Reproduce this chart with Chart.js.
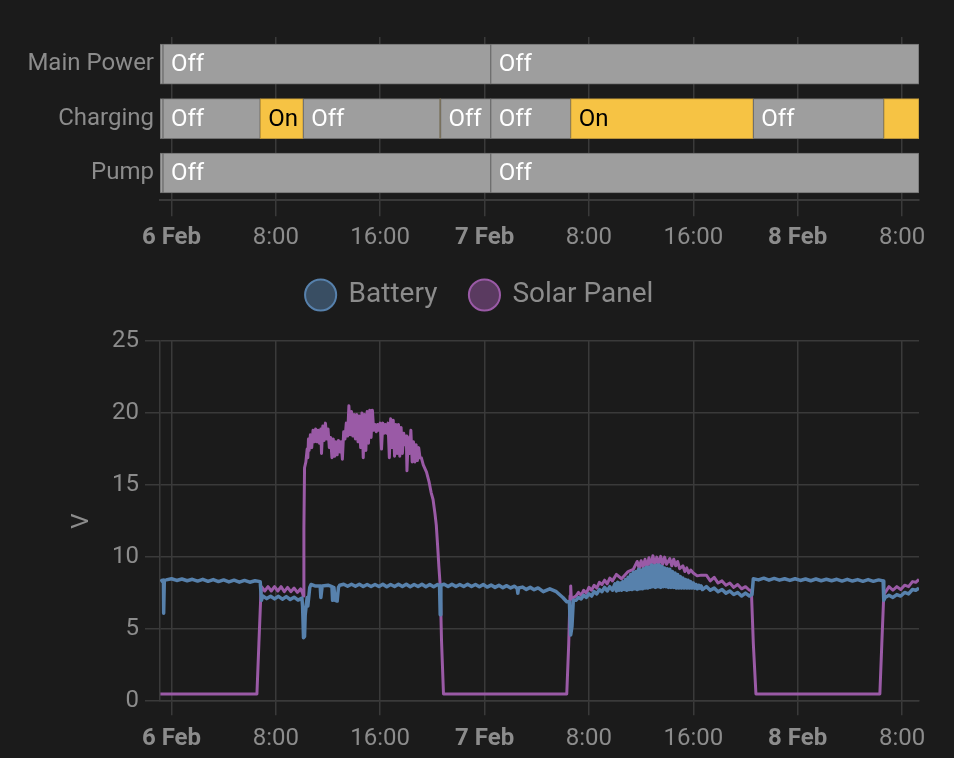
<!DOCTYPE html>
<html>
<head>
<meta charset="utf-8">
<style>
html,body{margin:0;padding:0;background:#1b1b1b;width:954px;height:758px;overflow:hidden}
canvas{position:absolute;left:0}
#tl{top:0}
#ln{top:248px}
</style>
<script src="https://cdn.jsdelivr.net/npm/chart.js@4"></script>
</head>
<body>
<canvas id="tl" width="954" height="259"></canvas>
<canvas id="ln" width="954" height="514"></canvas>
<script>
// Axis
const tickHours = [0, 8, 16, 24, 32, 40, 48, 56];
const tickLabels = ['6 Feb', '8:00', '16:00', '7 Feb', '8:00', '16:00', '8 Feb', '8:00'];
const yTicks = [0, 5, 10, 15, 20, 25];
const hourMin = -0.88, hourMax = 57.3;

// Timeline
const rows = ['Main Power', 'Charging', 'Pump'];
const mainStarts = [-0.88, -0.65, 24.47];
const mainEnds = [-0.65, 24.47, 57.3];
const mainStates = ['', 'Off', 'Off'];
const chargeStarts = [-0.88, -0.65, 6.8, 10.1, 20.58, 20.62, 24.47, 30.6, 44.6, 54.6];
const chargeEnds = [-0.65, 6.8, 10.1, 20.58, 20.62, 24.47, 30.6, 44.6, 54.6, 57.3];
const chargeStates = ['', 'Off', 'On', 'Off', '', 'Off', 'Off', 'On', 'Off', ''];
const chargeKinds = ['Off', 'Off', 'On', 'Off', 'On', 'Off', 'Off', 'On', 'Off', 'On'];
const pumpStarts = [-0.88, -0.65, 24.47];
const pumpEnds = [-0.65, 24.47, 57.3];
const pumpStates = ['', 'Off', 'Off'];

// Voltage series: Battery
const batteryHours = [-0.85,-0.7,-0.62,-0.6,-0.55,
-0.4,0,0.4,0.8,1.2,1.6,2,2.4,2.8,3.2,3.6,4,4.4,4.8,5.2,5.6,6,6.4,6.8,
6.85,6.9,
7,7.3,7.6,7.9,8.2,8.5,8.8,9.1,9.4,9.7,10,
10.05,10.12,10.2,10.25,10.4,10.45,10.6,10.7,11,11.4,11.45,11.55,12,12.3,12.35,12.45,12.55,12.7,12.8,12.9,
13.2,13.5,13.8,14.1,14.4,14.7,15,15.3,15.6,15.9,16.2,16.5,16.8,17.1,17.4,17.7,18,18.3,18.6,18.9,19.2,19.5,19.8,20.1,20.4,20.55,20.6,20.65,
20.9,21.2,21.5,21.8,22.1,22.4,22.7,23,23.3,23.6,23.9,24.2,24.5,24.8,25.1,25.4,25.7,26,26.3,26.5,26.55,26.6,26.9,27.2,27.5,27.8,28.1,
28.5,29,29.5,30,30.3,30.5,30.6,30.7,30.8,
31,31.2,31.4,31.6,31.8,32,32.2,32.4,32.6,32.8,33,33.2,33.4,33.6,33.8,
34,34.1,34.2,34.3,34.4,34.5,34.6,34.7,34.8,34.9,35,35.1,35.2,35.3,35.4,35.5,35.6,35.7,35.8,35.9,36,36.1,36.2,36.3,36.4,36.5,36.6,36.7,36.8,36.9,37,37.1,37.2,37.3,37.4,37.5,37.6,37.7,37.8,37.9,38,38.1,38.2,38.3,38.4,38.5,38.6,38.7,38.8,38.9,39,39.1,39.2,39.3,39.4,39.5,39.6,39.7,39.8,39.9,40,40.1,40.2,40.3,40.4,40.5,40.6,40.7,
41,41.3,41.6,41.9,42.2,42.5,42.8,43.1,43.4,43.7,44,44.3,44.45,44.5,
44.6,45,45.4,45.8,46.2,46.6,47,47.4,47.8,48.2,48.6,49,49.4,49.8,50.2,50.6,51,51.4,51.8,52.2,52.6,53,53.4,53.8,54.2,54.55,
54.6,54.7,55,55.3,55.6,55.9,56.2,56.5,56.8,57.05,57.3];
const batteryVolts = [8.3,8.4,8.4,6.1,8.4,
8.42,8.5,8.38,8.48,8.36,8.46,8.34,8.46,8.32,8.44,8.3,8.42,8.28,8.4,8.26,8.38,8.26,8.36,8.3,
8.3,7,
7.3,7.12,7.28,7.1,7.28,7.08,7.26,7.06,7.22,7.02,7.15,
6.6,4.4,4.5,6,7.2,6.6,7.9,8.1,8,8,7.2,8,8.05,7.95,7,7.9,7,6.95,7.9,8.05,
8.12,7.98,8.12,7.98,8.12,7.96,8.1,7.96,8.1,7.96,8.12,7.94,8.1,7.96,8.12,7.96,8.12,7.94,8.1,7.96,8.12,7.94,8.1,7.94,8.1,8,6,8.05,
8.12,7.96,8.12,7.96,8.1,7.96,8.12,7.96,8.1,7.94,8.1,7.92,8.06,7.9,8.04,7.88,8.02,7.86,7.98,7.82,7.5,7.86,7.92,7.76,7.9,7.74,7.86,
7.6,7.8,7.6,7.2,6.9,6.9,4.6,5.2,7,
7,7.2,7.1,7.35,7.2,7.45,7.3,7.6,7.45,7.75,7.6,7.9,7.65,7.95,7.7,
8.15,7.65,8.25,7.7,8.2,7.7,8.3,7.75,8.45,7.7,8.6,7.75,8.8,7.75,8.95,7.8,9,7.75,9.15,7.8,9.1,7.8,9.2,7.85,9.3,7.85,9.3,7.9,9.45,7.95,9.4,7.9,9.45,7.95,9.45,7.9,9.35,7.95,9.25,7.95,9.2,7.9,9.15,7.9,9,7.9,8.9,7.85,8.8,7.85,8.65,7.85,8.55,7.85,8.45,7.85,8.4,7.85,8.3,7.85,8.2,7.85,8.1,7.8,8.05,7.85,8,7.75,
7.95,7.7,7.85,7.6,7.75,7.5,7.65,7.4,7.55,7.3,7.5,7.3,7.4,7.4,
8.5,8.42,8.54,8.4,8.52,8.4,8.5,8.38,8.5,8.38,8.48,8.36,8.48,8.36,8.46,8.36,8.46,8.34,8.46,8.34,8.44,8.32,8.44,8.32,8.42,8.35,
7,7.2,7.35,7.2,7.4,7.3,7.55,7.45,7.75,7.7,7.85];

// Voltage series: Solar Panel
const solarHours = [-0.85,6.55,6.7,6.85,
6.9,7.15,7.4,7.65,7.9,8.15,8.4,8.65,8.9,9.15,9.4,9.65,9.9,10.05,
10.1,10.15,10.2,10.3,10.4,10.45,10.5,10.55,10.65,10.75,10.85,10.95,11.05,11.15,11.25,11.35,11.45,11.5,11.6,11.7,11.8,11.9,12,12.1,12.2,12.3,12.4,12.5,12.6,12.7,12.8,12.9,13,13.1,13.2,13.3,13.4,13.5,13.6,13.7,13.8,13.9,14,14.1,14.2,14.3,14.4,14.5,14.6,14.7,14.8,14.9,15,15.1,15.2,15.3,15.4,15.5,15.6,15.7,15.8,15.9,16,16.1,16.2,16.3,16.4,16.5,16.6,16.7,16.8,16.9,17,17.1,17.2,17.3,17.4,17.5,17.6,17.7,17.8,17.9,18,18.05,18.15,18.25,18.35,18.45,18.55,18.65,18.75,18.85,18.95,19.05,19.15,19.3,19.55,19.75,19.9,20.05,20.2,20.3,20.4,20.5,20.6,20.7,20.85,
30.3,30.45,30.55,30.6,30.65,
31,31.2,31.4,31.6,31.8,32,32.2,32.4,32.6,32.8,33,33.2,33.4,33.6,33.8,34.1,34.5,35,35.4,
35.7,35.85,36,36.15,36.3,36.45,36.6,36.75,36.9,37.05,37.2,37.35,37.5,37.65,37.8,37.95,38.2,38.35,38.5,38.65,38.8,38.95,39.2,39.35,39.5,39.65,39.8,40,40.3,40.6,
41,41.3,41.6,41.9,42.2,42.5,42.8,43.1,43.4,43.7,44,44.3,44.45,44.6,44.8,54.3,54.45,54.6,
55,55.3,55.6,55.9,56.2,56.5,56.8,57.05,57.3];
const solarVolts = [0.5,0.5,4,7.4,
7.95,7.65,7.95,7.65,7.95,7.65,7.95,7.6,7.9,7.6,7.85,7.55,7.8,7.5,
7.3,12,16.2,16.6,17.5,16.9,18.2,17.4,18.5,17.6,18.8,18,18.9,18,18.8,17.9,18.9,17.2,19.1,18.1,19.3,18.2,18.9,17.6,18.3,16.9,18.2,17,18,17.1,18.1,17.3,18,16.8,18.7,18.2,19.3,18.4,20.5,18.5,20.1,18.4,19.9,18.2,19.9,18,19.8,17.6,20,16.9,19.9,17.4,20.1,17.9,20.2,18.3,20.2,18.8,19.2,18.7,19.2,18.8,19.3,17.5,19.3,18.6,19.2,18.6,19.3,16.9,19.6,17.6,19.5,17,19.2,17.2,19.2,17,19,17.2,18.6,17.8,18.4,16,18.3,17.2,18.8,16.6,18,16.6,17.8,16.7,17.6,16.9,16.9,16.4,15.9,15.2,14.5,14,13,12.2,10.8,9.3,8,4.2,0.5,
0.5,4,7.3,8,7.1,
7.3,7.55,7.35,7.7,7.5,7.9,7.7,8.05,7.85,8.25,8.1,8.4,8.15,8.55,8.35,8.8,8.5,9,9.15,
9.7,9.2,9.75,9.3,9.85,9.3,9.95,9.4,10.1,9.5,10,9.5,10.05,9.5,10,9.5,9.9,9.4,9.85,9.4,9.7,9.2,9.4,9,9.25,8.9,9.1,8.9,8.7,8.75,
8.75,8.35,8.6,8.2,8.35,8.05,8.2,7.9,8.1,7.8,7.95,7.7,7.7,4,0.5,0.5,4,7.4,
7.95,7.7,7.95,7.75,8.05,7.95,8.3,8.25,8.45];

function pts(xs, ys) { return xs.map((x, i) => ({ x, y: ys[i] })); }
function segs(row, s, e) { return s.map((a, i) => ({ x: [a, e[i]], y: row })); }
const GRID = '#3a3a3a', TEXT = '#8c8c8c';
const FF = 'Roboto';
const stateFill = { Off: '#9e9e9e', On: '#f6c344' };
const stateEdge = { Off: '#6f6f6f', On: '#b8923a' };

const timelineData = [
  ...segs(rows[0], mainStarts, mainEnds),
  ...segs(rows[1], chargeStarts, chargeEnds),
  ...segs(rows[2], pumpStarts, pumpEnds)
];
const timelineKinds = [...mainStates.map(() => 'Off'), ...chargeKinds, ...pumpStates.map(() => 'Off')];
const timelineTexts = [...mainStates, ...chargeStates, ...pumpStates];

function xTicksOpts(pad) {
  return {
    autoSkip: false, maxRotation: 0, color: TEXT, padding: pad,
    font: c => ({ family: FF, size: 24, weight: (c.tick && c.tick.value % 24 === 0) ? '700' : '400' }),
    callback: v => { const i = tickHours.indexOf(v); return i < 0 ? '' : tickLabels[i]; }
  };
}
function setXTicks(axis) { axis.ticks = tickHours.map(value => ({ value })); }

const stateText = {
  id: 'stateText',
  afterDatasetsDraw(chart) {
    const { ctx, scales } = chart;
    ctx.save();
    ctx.font = '24px ' + FF;
    ctx.textBaseline = 'middle';
    timelineData.forEach((d, i) => {
      if (!timelineTexts[i]) return;
      ctx.fillStyle = timelineTexts[i] === 'On' ? '#000' : '#fff';
      ctx.fillText(timelineTexts[i], scales.x.getPixelForValue(d.x[0]) + 8, scales.y.getPixelForValue(d.y) + 1);
    });
    ctx.restore();
  }
};

const legendRoom = {
  id: 'legendRoom',
  beforeInit(chart) {
    const fit = chart.legend.fit;
    chart.legend.fit = function () { fit.call(this); this.height += 22; };
  }
};

new Chart(document.getElementById('tl'), {
  type: 'bar',
  plugins: [stateText],
  data: {
    labels: rows,
    datasets: [{
      data: timelineData,
      barThickness: 40,
      grouped: false,
      borderSkipped: false,
      borderWidth: 1,
      backgroundColor: timelineKinds.map(k => stateFill[k]),
      borderColor: timelineKinds.map(k => stateEdge[k])
    }]
  },
  options: {
    indexAxis: 'y', responsive: false, animation: false, devicePixelRatio: 1,
    layout: { padding: { top: 37, right: 35, left: 0, bottom: 0 } },
    plugins: { legend: { display: false }, tooltip: { enabled: false } },
    scales: {
      x: {
        type: 'linear', min: hourMin, max: hourMax, afterBuildTicks: setXTicks,
        grid: { color: GRID, lineWidth: 1.5, tickLength: 16 }, border: { color: GRID, width: 2 },
        ticks: xTicksOpts(7)
      },
      y: {
        type: 'category', labels: rows,
        afterFit(s) { s.width = 160; },
        grid: { display: false, drawTicks: false }, border: { display: false },
        ticks: { color: TEXT, padding: 6, font: { family: FF, size: 24 } }
      }
    }
  }
});

new Chart(document.getElementById('ln'), {
  type: 'line',
  plugins: [legendRoom],
  data: {
    datasets: [
      { label: 'Battery', data: pts(batteryHours, batteryVolts), borderColor: '#5781ac', backgroundColor: 'rgba(87,129,172,0.5)', borderWidth: 3.5, borderJoinStyle: 'round', pointRadius: 0, tension: 0, fill: false },
      { label: 'Solar Panel', data: pts(solarHours, solarVolts), borderColor: '#9a5aa6', backgroundColor: 'rgba(154,90,166,0.5)', borderWidth: 3, borderJoinStyle: 'round', pointRadius: 0, tension: 0, fill: false }
    ]
  },
  options: {
    responsive: false, animation: false, devicePixelRatio: 1,
    layout: { padding: { top: 0, right: 35, left: 41, bottom: 0 } },
    plugins: {
      tooltip: { enabled: false },
      legend: {
        position: 'top', align: 'center',
        labels: {
          color: TEXT, usePointStyle: true, boxHeight: 22, boxWidth: 28, padding: 33, font: { family: FF, size: 28 },
          generateLabels: c => Chart.defaults.plugins.legend.labels.generateLabels(c).map(l => ({ ...l, lineWidth: 2 }))
        }
      }
    },
    scales: {
      x: {
        type: 'linear', min: hourMin, max: hourMax, afterBuildTicks: setXTicks,
        grid: { color: GRID, lineWidth: 1.5, tickLength: 14 }, border: { color: GRID, width: 1.5 },
        ticks: xTicksOpts(9)
      },
      y: {
        type: 'linear', min: 0, max: 25,
        afterBuildTicks(a) { a.ticks = yTicks.map(value => ({ value })); },
        afterFit(s) { s.width = 119; },
        grid: { color: GRID, lineWidth: 1.5, tickLength: 15 }, border: { color: GRID, width: 1.5 },
        ticks: { color: TEXT, padding: 6, font: { family: FF, size: 24 } },
        title: { display: true, text: 'V', color: TEXT, font: { family: FF, size: 24 }, padding: { top: 27, bottom: 0 } }
      }
    }
  }
});
</script>
</body>
</html>
